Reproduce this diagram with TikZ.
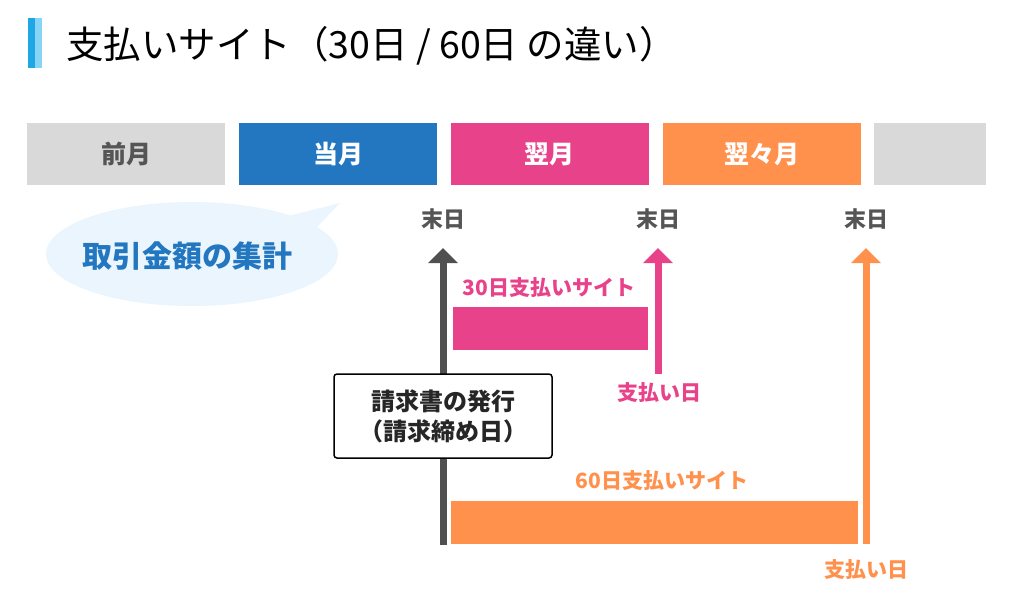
\documentclass[tikz,border=0pt]{standalone}
\usepackage{fontspec}
\setmainfont{Noto Sans CJK JP}
\usetikzlibrary{arrows.meta}
\definecolor{cgray}{HTML}{D9D9D9}
\definecolor{cblue}{HTML}{2277C0}
\definecolor{cpink}{HTML}{E8438A}
\definecolor{corange}{HTML}{FF914D}
\definecolor{cdark}{HTML}{555555}
\definecolor{carrow}{HTML}{505050}
\definecolor{cbubble}{HTML}{EAF5FD}
\definecolor{ctitleA}{HTML}{1FA6E4}
\definecolor{ctitleB}{HTML}{86D5F7}
\tikzset{
  monthbar/.style={minimum width=198pt, minimum height=62pt, inner sep=0pt, font=\fontsize{25}{29}\selectfont\bfseries},
  endlabel/.style={font=\fontsize{22}{26}\selectfont\bfseries, text=cdark, inner sep=0pt},
  sitelabel/.style={font=\fontsize{21}{25}\selectfont\bfseries, inner sep=0pt},
  uparrow/.style={line width=7pt, -{Triangle[width=29pt,length=15pt]}},
}
\begin{document}
\begin{tikzpicture}[x=1pt,y=-1pt]
\useasboundingbox (0,0) rectangle (1024,614);
% title
\fill[ctitleA] (28,18) rectangle (35,68);
\fill[ctitleB] (35,18) rectangle (42,68);
\node[anchor=west, inner sep=0pt, font=\fontsize{37.5}{41}\selectfont] (title) at (66,46) {支払いサイト（30日 / 60日 の違い）};
% month bars
\node[monthbar, fill=cgray, text=cdark] (m0) at (126,154) {前月};
\node[monthbar, fill=cblue, text=white] (m1) at (338,154) {当月};
\node[monthbar, fill=cpink, text=white] (m2) at (549.5,154) {翌月};
\node[monthbar, fill=corange, text=white] (m3) at (761.5,154) {翌々月};
\node[monthbar, fill=cgray, minimum width=112pt] (m4) at (930,154) {};
% bubble
\fill[cbubble] (192,254) ellipse [x radius=146, y radius=52];
\fill[cbubble] (288,216) -- (340,203) -- (316,228) -- cycle;
\node[inner sep=0pt, text=cblue, font=\fontsize{30}{34}\selectfont\bfseries] (agg) at (187,256) {取引金額の集計};
% end-of-month labels
\node[endlabel] (e1) at (443,219) {末日};
\node[endlabel] (e2) at (658,219) {末日};
\node[endlabel] (e3) at (866,219) {末日};
% bars
\fill[cpink] (453,307) rectangle (648,350);
\fill[corange] (451,501) rectangle (858,544);
\node[sitelabel, text=cpink] (s30) at (549,288) {30日支払いサイト};
\node[sitelabel, text=corange] (s60) at (662,481) {60日支払いサイト};
% arrows
\coordinate (gb) at (443,545);
\coordinate (gt) at (443,248);
\coordinate (pb) at (658,374);
\coordinate (pt) at (658,248);
\coordinate (ob) at (866,544);
\coordinate (ot) at (866,248);
\draw[uparrow, carrow] (gb) -- (gt);
\draw[uparrow, cpink] (pb) -- (pt);
\draw[uparrow, corange] (ob) -- (ot);
% invoice box
\node[draw=black, line width=1.5pt, fill=white, rounded corners=3pt, minimum width=218pt, minimum height=84pt, inner sep=0pt, align=center, font=\fontsize{24}{30}\selectfont\bfseries, text=black!85] (inv) at (443,416) {請求書の発行\\（請求締め日）};
% payment day labels
\node[sitelabel, text=cpink] (p1) at (659,393) {支払い日};
\node[sitelabel, text=corange] (p2) at (866,570) {支払い日};
\end{tikzpicture}
\end{document}
